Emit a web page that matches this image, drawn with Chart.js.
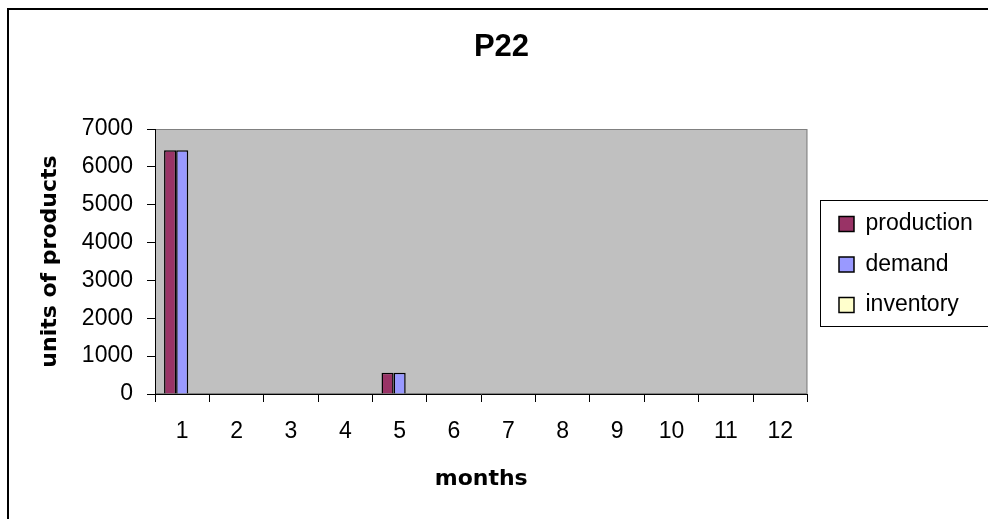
<!DOCTYPE html>
<html>
<head>
<meta charset="utf-8">
<script src="https://cdn.jsdelivr.net/npm/chart.js@4"></script>
<style>
  html, body { margin: 0; padding: 0; background: #ffffff; }
  #wrap { position: relative; width: 988px; height: 519px; }
</style>
</head>
<body>
<div id="wrap"><canvas id="c" width="988" height="519"></canvas></div>
<script>
const months = ['1', '2', '3', '4', '5', '6', '7', '8', '9', '10', '11', '12'];
const production = [6440, 0, 0, 0, 560, 0, 0, 0, 0, 0, 0, 0];
const demand = [6440, 0, 0, 0, 560, 0, 0, 0, 0, 0, 0, 0];
const inventory = [0, 0, 0, 0, 0, 0, 0, 0, 0, 0, 0, 0];
const yTicks = [0, 1000, 2000, 3000, 4000, 5000, 6000, 7000];

const REG = 'Liberation Sans, Arial, sans-serif';
const BOLDF = 'DejaVu Sans, Verdana, sans-serif';

const decor = {
  id: 'decor',
  beforeDraw(chart) {
    const ctx = chart.ctx;
    const a = chart.chartArea;
    ctx.save();
    ctx.fillStyle = '#ffffff';
    ctx.fillRect(0, 0, chart.width, chart.height);
    ctx.strokeStyle = '#000000';
    ctx.lineWidth = 2;
    ctx.strokeRect(8, 9, chart.width + 20, chart.height + 20);
    ctx.fillStyle = '#C0C0C0';
    ctx.fillRect(a.left, a.top, a.right - a.left, a.bottom - a.top);
    ctx.strokeStyle = '#808080';
    ctx.lineWidth = 1;
    ctx.strokeRect(a.left + 0.5, a.top + 0.5, a.right - a.left - 1, a.bottom - a.top - 1);
    ctx.restore();
  },
  afterDraw(chart) {
    const lg = chart.legend;
    if (!lg || !lg.legendHitBoxes || !lg.legendHitBoxes.length) return;
    const hb = lg.legendHitBoxes;
    const first = hb[0], last = hb[hb.length - 1];
    const ctx = chart.ctx;
    ctx.save();
    ctx.strokeStyle = '#000000';
    ctx.lineWidth = 1;
    const l = Math.round(first.left - 19) + 0.5;
    const t = Math.round(first.top - 12.5) + 0.5;
    const b = Math.round(last.top + last.height + 9.5) + 0.5;
    ctx.strokeRect(l, t, chart.width + 20, b - t);
    ctx.restore();
  }
};

new Chart(document.getElementById('c'), {
  type: 'bar',
  data: {
    labels: months,
    datasets: [
      { label: 'production', data: production, backgroundColor: '#993366', borderColor: '#000000', borderWidth: 1.5 },
      { label: 'demand', data: demand, backgroundColor: '#9999FF', borderColor: '#000000', borderWidth: 1.5 },
      { label: 'inventory', data: inventory, backgroundColor: '#FFFFCC', borderColor: '#000000', borderWidth: 1.5 }
    ]
  },
  options: {
    responsive: false,
    animation: false,
    devicePixelRatio: 1,
    layout: { padding: { left: 21.5, right: 6.5, top: 0, bottom: 0 } },
    datasets: { bar: { categoryPercentage: 0.667, barPercentage: 1.0 } },
    plugins: {
      title: {
        display: true,
        text: 'P22',
        color: '#000000',
        font: { family: REG, size: 31, weight: 'bold' },
        padding: { top: 28.4, bottom: 63.4 }
      },
      legend: {
        display: true,
        position: 'right',
        fullSize: false,
        align: 'center',
        title: { display: true, text: ' ', font: { family: REG, size: 5 }, padding: 0 },
        labels: {
          color: '#000000',
          font: { family: REG, size: 23 },
          boxWidth: 15,
          boxHeight: 15,
          padding: 17.5
        }
      },
      tooltip: { enabled: false }
    },
    scales: {
      x: {
        offset: true,
        grid: { display: true, drawOnChartArea: false, drawTicks: true, tickLength: 8, color: '#000000', offset: true },
        border: { display: true, color: '#000000', width: 1 },
        ticks: { color: '#000000', font: { family: REG, size: 23 }, padding: 15.7, maxRotation: 0 },
        title: { display: true, text: 'months', color: '#000000', font: { family: BOLDF, size: 22, weight: 'bold' }, padding: { top: 0, bottom: 26.8 } },
        afterFit(s) { s.height = 125; }
      },
      y: {
        min: 0,
        max: 7000,
        afterBuildTicks(s) { s.ticks = yTicks.map(v => ({ value: v })); },
        grid: { display: true, drawOnChartArea: false, drawTicks: true, tickLength: 8, color: '#000000' },
        border: { display: true, color: '#000000', width: 1 },
        ticks: { color: '#000000', font: { family: REG, size: 23 }, padding: 14, callback: v => String(v) },
        title: { display: true, text: 'units of products', color: '#000000', font: { family: BOLDF, size: 22, weight: 'bold' }, padding: { top: 15.3, bottom: 0 } },
        afterFit(s) { s.width = 133.5; }
      },
      y2: {
        position: 'right',
        display: true,
        grid: { display: false },
        border: { display: false },
        ticks: { display: false },
        afterFit(s) { s.width = 14.1; }
      }
    }
  },
  plugins: [decor]
});
</script>
</body>
</html>
